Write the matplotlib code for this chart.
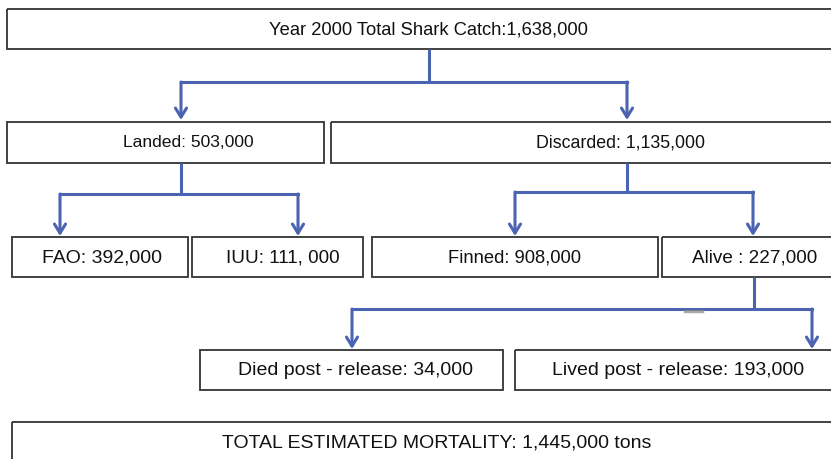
import matplotlib
matplotlib.use("Agg")
import matplotlib.pyplot as plt
from matplotlib.patches import Rectangle

plt.rcParams['font.family'] = ['Liberation Sans', 'DejaVu Sans']

# box labels
labels = ["Year 2000 Total Shark Catch:1,638,000",
          "Landed: 503,000", "Discarded: 1,135,000",
          "FAO: 392,000", "IUU: 111, 000", "Finned: 908,000", "Alive : 227,000",
          "Died post - release: 34,000", "Lived post - release: 193,000",
          "TOTAL ESTIMATED MORTALITY: 1,445,000 tons"]

# box outlines in pixel coords (x0, y0, x1, y1)
boxes = [(7, 10, 870, 50),
         (7, 123, 324, 164), (331, 123, 900, 164),
         (12, 238, 188, 278), (192, 238, 363, 278), (372, 238, 658, 278), (662, 238, 900, 278),
         (200, 351, 503, 391), (515, 351, 900, 391),
         (12, 423, 900, 475)]

# text centres and sizes
text_pos = [(428, 30), (188, 143), (620, 143), (102, 258), (283, 258),
            (515, 258), (755, 258), (356, 371), (678, 371), (437, 443)]
text_size = [13.2, 12.6, 12.8, 14, 13.6, 13.2, 13.6, 14, 14, 14]

# connectors: (parent x, parent bottom, bar y, child xs, child top)
splits = [(429, 50, 83, [181, 627], 121),
          (181, 164, 195, [60, 298], 237),
          (627, 164, 193, [515, 753], 237),
          (754, 278, 310, [352, 812], 350)]

blue = '#4a64b2'

fig = plt.figure(figsize=(8.31, 4.6), dpi=100)
ax = fig.add_axes([0, 0, 1, 1])
ax.set_xlim(0, 831)
ax.set_ylim(460, 0)
ax.axis('off')

for (x0, y0, x1, y1) in boxes:
    ax.add_patch(Rectangle((x0, y0), x1 - x0, y1 - y0, fill=False,
                           edgecolor='#333333', linewidth=1.3, clip_on=True))

for lab, (x, y), s in zip(labels, text_pos, text_size):
    ax.text(x, y, lab, ha='center', va='center', fontsize=s, color='#111111')

for px, py, by, kids, ky in splits:
    ax.plot([px, px], [py, by], color=blue, lw=2.2, solid_capstyle='butt')
    ax.plot([min(kids), max(kids)], [by, by], color=blue, lw=2.2, solid_capstyle='projecting')
    for kx in kids:
        ax.annotate('', xy=(kx, ky), xytext=(kx, by),
                    arrowprops=dict(arrowstyle='->,head_length=0.65,head_width=0.4',
                                    color=blue, lw=2.2, shrinkA=0, shrinkB=0))

# small grey smudge on the lower bar
ax.plot([685, 702], [312, 312], color='#888888', lw=2.5, alpha=0.7)

fig.savefig('out.png', dpi=100)
